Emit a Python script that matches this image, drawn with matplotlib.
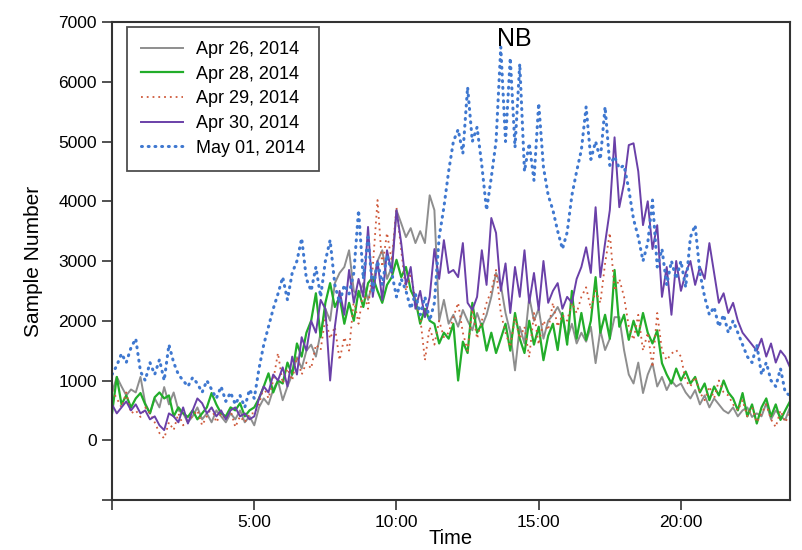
import numpy as np
import matplotlib
matplotlib.use('Agg')
import matplotlib.pyplot as plt

plt.rcParams['font.family'] = ['Liberation Sans', 'DejaVu Sans']

# sample counts every 10 minutes (6 values per hour)
apr26 = [800, 1060, 900, 750, 850, 800,
         1060, 620, 450, 700, 550, 890,
         600, 800, 500, 450, 300, 400,
         550, 350, 450, 300, 500, 400,
         300, 450, 350, 500, 300, 400,
         250, 550, 700, 600, 850, 1000,
         670, 900, 1100, 1390, 1200, 1500,
         1600, 1400, 1800, 2200, 2000, 2630,
         2800, 2900, 3180, 2500, 2400, 2630,
         2350, 2630, 3000, 3180, 2700, 2900,
         3850, 3630, 3400, 3550, 3300, 3500,
         3300, 4100, 3850, 2000, 2350, 1950,
         2100, 1900, 2180, 2000, 1840, 2130,
         1900, 2100, 2400, 2800, 2600, 2130,
         1800, 1170, 1900, 1620, 2400, 2000,
         2200, 1700, 2000, 2100, 2230, 2060,
         1700, 1950, 1620, 1800, 1650, 1900,
         1290, 1840, 1510, 1700, 2060, 2060,
         1510, 1100, 950, 1300, 790, 1100,
         1290, 900, 1060, 840, 1000, 900,
         950, 800, 700, 840, 600, 750,
         550, 700, 600, 500, 450, 550,
         400, 500, 550, 390, 450, 400,
         620, 350, 500, 400, 340, 550]

apr28 = [450, 1060, 600, 750, 550, 700,
         790, 600, 450, 720, 800, 700,
         750, 400, 550, 450, 390, 500,
         350, 450, 550, 790, 600, 450,
         400, 550, 500, 620, 400, 500,
         550, 700, 900, 1120, 800, 1000,
         950, 1300, 1100, 1620, 1400, 1800,
         2000, 2460, 1725, 2300, 2630, 2230,
         2400, 1950, 2300, 2000, 2500, 2230,
         2630, 2730, 2500, 2300, 2600, 2730,
         3020, 2730, 2900, 2510, 2350, 1950,
         2200, 2000, 1950, 1620, 1800, 1700,
         1950, 1000, 1650, 1460, 2300, 1800,
         1950, 1500, 1800, 1460, 1700, 1950,
         1500, 2130, 1700, 1460, 2000, 1600,
         1900, 1340, 1750, 1950, 1510, 2130,
         1600, 2500, 1700, 2130, 1680, 2000,
         2730, 1800, 2100, 1700, 2850, 1900,
         2100, 1680, 2000, 1750, 2130, 1800,
         1620, 1840, 1290, 1100, 950, 1200,
         1000, 1150, 950, 1060, 800, 950,
         670, 900, 750, 1000, 800, 700,
         500, 790, 400, 600, 280, 550,
         700, 400, 600, 340, 500, 650]

apr29 = [840, 700, 550, 800, 450, 500,
         390, 550, 450, 300, 120, 30,
         300, 170, 450, 250, 350, 400,
         500, 250, 400, 550, 300, 450,
         350, 500, 220, 400, 300, 450,
         450, 600, 890, 700, 1000, 1460,
         950, 1200, 1000, 1390, 1100, 1300,
         1200, 1600, 1510, 2060, 1700, 1900,
         1340, 1725, 1500, 2350, 1950, 2500,
         2200, 2900, 4020, 2900, 3470, 3000,
         3900, 3180, 2500, 2800, 2350, 2060,
         1340, 1900, 1600, 2000, 1725, 1800,
         2060, 2300, 1800, 1500, 2200, 1700,
         2000, 2300, 2500, 2850, 2130, 1800,
         1560, 2060, 1700, 1900, 1390, 2130,
         1600, 2000, 1840, 2300, 1900, 2100,
         2000, 2300, 2130, 2400, 2560, 2200,
         2500, 2300, 2960, 3470, 2500, 2700,
         2400, 1900, 1680, 2100, 1500, 1800,
         1220, 2130, 1500, 1340, 1450, 1510,
         1400, 1000, 900, 1060, 800, 670,
         900, 700, 1000, 800, 750, 600,
         500, 670, 400, 550, 300, 450,
         600, 350, 220, 500, 300, 450]

apr30 = [600, 450, 550, 650, 500, 600,
         450, 500, 350, 400, 250, 170,
         450, 400, 300, 550, 280, 500,
         700, 620, 450, 550, 400, 500,
         350, 500, 550, 400, 450, 350,
         400, 700, 900, 800, 1100, 1000,
         1220, 900, 1400, 1100, 1725, 1500,
         2000, 1800, 2350, 2200, 1000, 1900,
         2500, 2100, 2850, 2300, 2700, 2400,
         3570, 2400, 3000, 2350, 3180, 2800,
         3850, 3300, 2600, 2900, 2200, 2500,
         2060, 2400, 3200, 2700, 3350, 2800,
         2850, 2730, 3300, 2300, 2180, 2400,
         3180, 2600, 3720, 3470, 2500, 2960,
         2130, 2900, 2400, 3180, 2300, 2800,
         2180, 3000, 2300, 2500, 2630, 2200,
         2400, 2300, 2700, 2900, 3230, 2800,
         3900, 2730, 3300, 3850, 5070, 3900,
         4300, 4940, 4970, 4500, 3600, 4000,
         3200, 3600, 2400, 2900, 2100, 3000,
         2500, 2800, 3000, 2600, 2900, 2700,
         3300, 2800, 2300, 2460, 2130, 2300,
         2000, 1800, 1700, 1600, 1500, 1700,
         1400, 1620, 1300, 1500, 1400, 1220]

may01 = [1100, 1250, 1450, 1300, 1550, 1700,
         1150, 1000, 1300, 1100, 1350, 1000,
         1600, 1300, 1100, 1000, 900, 1050,
         950, 800, 1000, 850, 700, 900,
         650, 800, 600, 750, 550, 850,
         700, 1200, 1600, 1900, 2200, 2450,
         2730, 2350, 2800, 3000, 3380, 2700,
         2500, 2900, 2400, 3000, 3350, 2600,
         2300, 2600, 2450, 2800, 3850, 2700,
         3400, 2500, 3000, 2600, 3100, 2800,
         2400, 2700, 2500, 2200, 2450, 2100,
         2400, 2000, 2300, 3400, 3900, 4500,
         5000, 5200, 4800, 5910, 5000, 5240,
         4600, 3850, 4400, 5000, 6580, 5000,
         6400, 4900, 6300, 4500, 4970, 4350,
         5640, 4570, 4100, 3850, 3500, 3200,
         3480, 4100, 4500, 4860, 5580, 4700,
         5000, 4700, 5580, 4600, 4750, 4550,
         4600, 4200, 3700, 3400, 3000, 3300,
         4020, 2900, 3200, 2600, 3000, 2700,
         3000, 2560, 3400, 3600, 2800, 2400,
         2100, 2230, 1900, 2100, 1800, 2000,
         1800, 1600, 1400, 1300, 1600, 1100,
         1300, 1000, 900, 1200, 800, 750]

labels = ['Apr 26, 2014', 'Apr 28, 2014', 'Apr 29, 2014', 'Apr 30, 2014', 'May 01, 2014']
hours = np.arange(len(apr26)) / 6.0

fig = plt.figure(figsize=(8.02, 5.5), dpi=100)
ax = fig.add_axes([0.1397, 0.0909, 0.8453, 0.8691])

ax.plot(hours, apr26, color='#8e8e8e', lw=1.4, label=labels[0])
ax.plot(hours, apr28, color='#22ad2a', lw=1.6, label=labels[1])
ax.plot(hours, apr29, color='#cf5a3c', lw=1.3, ls=(0, (1, 2.2)), label=labels[2])
ax.plot(hours, apr30, color='#6a40a8', lw=1.4, label=labels[3])
ax.plot(hours, may01, color='#3f78d0', lw=2.2, ls=(0, (0.3, 1.9)),
        dash_capstyle='round', label=labels[4])

ax.set_xlim(0, hours[-1])
ax.set_ylim(-1000, 7000)
ax.set_xticks([0, 5, 10, 15, 20])
ax.set_xticklabels(['', '5:00', '10:00', '15:00', '20:00'])
ax.set_yticks(range(-1000, 7001, 1000))
ax.set_yticklabels([''] + [str(v) for v in range(0, 7001, 1000)])
ax.tick_params(direction='out', length=7, width=1.2, labelsize=12.5, color='#333333', pad=4)

for s in ax.spines.values():
    s.set_linewidth(1.5)
    s.set_color('#333333')

ax.set_xlabel('Time', fontsize=14.5, labelpad=-1)
ax.set_ylabel('Sample Number', fontsize=15, labelpad=11)
ax.text(0.593, 0.965, 'NB', transform=ax.transAxes, fontsize=18,
        ha='center', va='center')

leg = ax.legend(loc='upper left', bbox_to_anchor=(0.022, 0.99), fontsize=13,
                frameon=True, fancybox=False, edgecolor='#222222',
                handlelength=2.3, labelspacing=0.42, borderpad=0.8,
                handletextpad=0.7, borderaxespad=0)
leg.get_frame().set_linewidth(1.3)

plt.savefig('out.png', dpi=100)
